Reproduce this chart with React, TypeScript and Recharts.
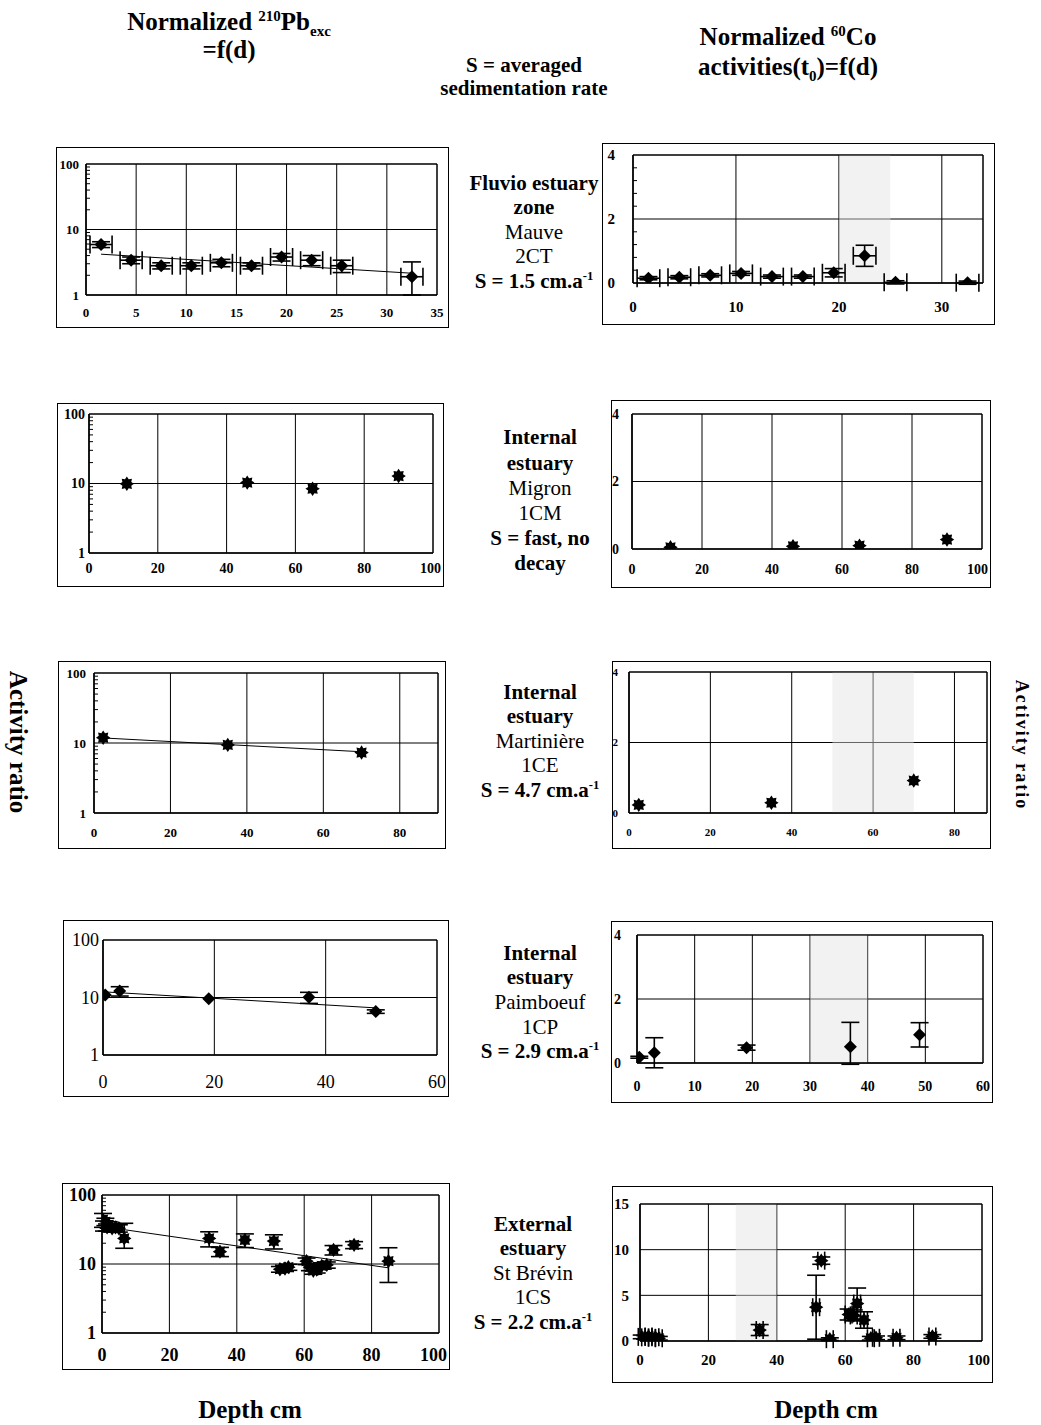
import React from "react";
import {
  CartesianGrid,
  ComposedChart,
  ErrorBar,
  Line,
  ReferenceArea,
  Scatter,
  XAxis,
  YAxis,
} from "recharts";

// Mauve 2CT (fluvio estuary)
const mauveDepth = [1.5, 4.5, 7.5, 10.5, 13.5, 16.5, 19.5, 22.5, 25.5, 32.5];
const mauveDepthErr = 1.1;
const mauvePb = [5.9, 3.4, 2.8, 2.8, 3.1, 2.8, 3.8, 3.4, 2.8, 1.9];
const mauvePbErr = [0.6, 0.4, 0.3, 0.3, 0.4, 0.3, 0.5, 0.6, 0.6, [0.9, 1.3]];
const mauvePbFitDepth = [1.5, 32.5];
const mauvePbFit = [4.2, 2.15];
const mauveCo = [0.15, 0.18, 0.24, 0.3, 0.2, 0.2, 0.32, 0.85, 0.02, 0.01];
const mauveCoErr = [0.05, 0.05, 0.05, 0.06, 0.05, 0.05, 0.13, 0.33, 0.05, 0.05];

// Migron 1CM
const migronDepth = [11, 46, 65, 90];
const migronPb = [9.9, 10.3, 8.4, 12.8];
const migronCo = [0.05, 0.08, 0.1, 0.28];

// Martinière 1CE
const martiniereDepth = [2.4, 35, 70];
const martinierePb = [11.9, 9.4, 7.3];
const martiniereFitDepth = [2.4, 70];
const martiniereFit = [11.8, 7.5];
const martiniereCo = [0.23, 0.29, 0.92];

// Paimboeuf 1CP
const paimboeufDepth = [0.4, 3, 19, 37, 49];
const paimboeufPb = [11.0, 13.0, 9.5, 10.1, 5.7];
const paimboeufPbErr = [0, 2.4, 0, 2.2, 0.4];
const paimboeufFitDepth = [0.4, 49];
const paimboeufFit = [12.5, 6.6];
const paimboeufCo = [0.18, 0.32, 0.48, 0.51, 0.88];
const paimboeufCoErr = [0.03, 0.47, 0.08, [0.55, 0.76], 0.38];

// St Brévin 1CS
const brevinDepth = [
  0.3, 0.6, 1.0, 1.5, 2.0, 3.0, 4.0, 5.0, 6.6, 31.8, 35.0, 42.4, 51.0, 52.8,
  54.3, 55.3, 60.7, 61.7, 62.7, 63.7, 65.2, 66.7, 68.7, 74.8, 85.0,
];
const brevinPb = [
  44, 36, 41, 34, 37, 33, 34, 33, 23.5, 23.5, 15.1, 22.3, 21.5, 8.4, 8.6, 9.0,
  11.0, 9.0, 8.0, 8.3, 9.4, 9.7, 16.0, 18.9, 11.0,
];
const brevinPbErr = [
  10, 6, 5, 4, 4, 4, 4, 4, [6.6, 15.4], 5.8, 2.3, 5, 5, 0.8, 0.8, 0.9, 1.2, 1,
  0.9, 0.9, 1, 1, 2.5, 2.2, [5.6, 6.2],
];
const brevinPbFitDepth = [0, 85];
const brevinPbFit = [35, 8.8];
const brevinCoDepth = [
  0.5, 1.5, 2.5, 3.5, 4.5, 5.5, 35, 51.5, 53, 55.5, 61, 62.5, 63.5, 65.5, 67.5,
  69, 75, 85.5,
];
const brevinCoDepthErr = 1;
const brevinCo = [
  0.45, 0.4, 0.5, 0.35, 0.4, 0.3, 1.2, 3.7, 8.8, 0.2, 2.9, 2.8, 4.1, 2.3, 0.3,
  0.35, 0.35, 0.5,
];
const brevinCoErr = [
  0.2, 0.2, 0.2, 0.2, 0.2, 0.2, 0.6, 3.5, 0.4, 0.15, 0.6, 0.6, 1.7, 0.9, 0.2,
  0.2, 0.2, 0.2,
];

// axis ticks
const logTicks = [1, 10, 100];
const logMinor = [2, 3, 4, 5, 6, 7, 8, 9, 20, 30, 40, 50, 60, 70, 80, 90];
const coTicks = [0, 2, 4];
const coMinor = [0.4, 0.8, 1.2, 1.6, 2.4, 2.8, 3.2, 3.6];
const brevinCoTicks = [0, 5, 10, 15];
const ticks35 = [0, 5, 10, 15, 20, 25, 30, 35];
const ticks30 = [0, 10, 20, 30];
const ticks100 = [0, 20, 40, 60, 80, 100];
const ticks80 = [0, 20, 40, 60, 80];
const ticks60by20 = [0, 20, 40, 60];
const ticks60by10 = [0, 10, 20, 30, 40, 50, 60];

type Err = number | number[];
type Row = { d: number; v: number; ex: Err; ey: Err };

const rows = (depth: number[], vals: number[], yErr?: Err[], xErr?: number): Row[] =>
  depth.map((d, i) => ({ d, v: vals[i], ey: yErr ? yErr[i] : 0, ex: xErr ?? 0 }));

const SERIF = '"Liberation Serif", "Times New Roman", serif';

const Diamond = (p: any) => {
  const { cx, cy } = p;
  const r = 6.5;
  return (
    <polygon
      points={`${cx},${cy - r} ${cx + r},${cy} ${cx},${cy + r} ${cx - r},${cy}`}
      fill="#000"
    />
  );
};

const Burst = (p: any) => {
  const { cx, cy } = p;
  const pts: string[] = [];
  for (let i = 0; i < 16; i++) {
    const a = (i * Math.PI) / 8;
    const r = i % 2 ? 4.8 : 7.2;
    pts.push(`${cx + r * Math.cos(a)},${cy + r * Math.sin(a)}`);
  }
  return <polygon points={pts.join(" ")} fill="#000" />;
};

const NoLabel = () => <g />;

type PanelProps = {
  box: number[];
  plot: number[];
  xMax: number;
  xTicks: number[];
  log?: boolean;
  yTicks: number[];
  minor?: number[];
  font: number;
  weight?: number;
  xGap: number;
  yGap: number;
  shade?: number[];
  points: Row[];
  shape: any;
  fit?: Row[];
  xErr?: boolean;
};

function Panel(props: PanelProps) {
  const { box, plot, xMax, xTicks, log, yTicks, minor, font, xGap, yGap } = props;
  const [x0, y0, x1, y1] = box;
  const [px0, py0, px1, py1] = plot;
  const w = x1 - x0 - 2;
  const h = y1 - y0 - 2;
  const rightGap = x1 - 1 - px1;
  const yMin = yTicks[0];
  const yMax = yTicks[yTicks.length - 1];
  const tickStyle = {
    fill: "#000",
    fontFamily: SERIF,
    fontSize: font,
    fontWeight: props.weight ?? 700,
  };

  // last x label is pushed left when it would run past the frame
  const XTick = (tp: any) => {
    const { x, y, payload } = tp;
    const label = String(payload.value);
    const half = (label.length * font * 0.5) / 2;
    const squeeze = payload.value === xMax && half > rightGap - 1;
    return (
      <text
        x={squeeze ? x + rightGap - 2 : x}
        y={y}
        dy="0.71em"
        textAnchor={squeeze ? "end" : "middle"}
        {...tickStyle}
      >
        {label}
      </text>
    );
  };

  return (
    <div
      style={{
        position: "absolute",
        left: x0,
        top: y0,
        width: x1 - x0,
        height: y1 - y0,
        border: "1px solid #000",
        boxSizing: "border-box",
      }}
    >
      <ComposedChart
        width={w}
        height={h}
        margin={{ top: py0 - y0 - 1, right: rightGap, bottom: 0, left: 0 }}
      >
        {props.shade && (
          <ReferenceArea
            x1={props.shade[0]}
            x2={props.shade[1]}
            y1={yMin}
            y2={yMax}
            fill="#e2e2e2"
            fillOpacity={0.45}
            stroke="none"
          />
        )}
        <CartesianGrid stroke="#000" strokeWidth={1} />
        <XAxis
          type="number"
          dataKey="d"
          domain={[0, xMax]}
          ticks={xTicks}
          interval={0}
          allowDataOverflow
          height={y1 - 1 - py1}
          tickSize={0}
          tickMargin={xGap}
          axisLine={{ stroke: "#000", strokeWidth: 1.2 }}
          tick={XTick}
        />
        <YAxis
          type="number"
          dataKey="v"
          scale={log ? "log" : "linear"}
          domain={[yMin, yMax]}
          ticks={yTicks}
          interval={0}
          allowDataOverflow
          width={px0 - x0 - 1}
          tickSize={0}
          tickMargin={yGap}
          axisLine={{ stroke: "#000", strokeWidth: 1.2 }}
          tick={tickStyle}
        />
        {minor && (
          <YAxis
            yAxisId="minor"
            type="number"
            mirror
            scale={log ? "log" : "linear"}
            domain={[yMin, yMax]}
            ticks={minor}
            interval={0}
            allowDataOverflow
            tickSize={4}
            axisLine={false}
            tickLine={{ stroke: "#000" }}
            tick={NoLabel}
          />
        )}
        <ReferenceArea
          x1={0}
          x2={xMax}
          y1={yMin}
          y2={yMax}
          fill="none"
          stroke="#000"
          strokeWidth={1}
        />
        {props.fit && (
          <Line
            data={props.fit}
            dataKey="v"
            type="linear"
            stroke="#000"
            strokeWidth={1}
            dot={false}
            isAnimationActive={false}
          />
        )}
        <Scatter
          data={props.points}
          dataKey="v"
          shape={props.shape}
          isAnimationActive={false}
        >
          {props.xErr && (
            <ErrorBar dataKey="ex" direction="x" width={9} stroke="#000" strokeWidth={1.6} />
          )}
          <ErrorBar dataKey="ey" direction="y" width={9} stroke="#000" strokeWidth={1.6} />
        </Scatter>
      </ComposedChart>
    </div>
  );
}

function TextBlock({ cx, top, lh, lines, size }: { cx: number; top: number; lh: number; lines: [React.ReactNode, boolean][]; size: number }) {
  return (
    <div
      style={{
        position: "absolute",
        left: cx - 150,
        top: top - lh / 2,
        width: 300,
        textAlign: "center",
        fontFamily: SERIF,
        fontSize: size,
        lineHeight: `${lh}px`,
        color: "#000",
      }}
    >
      {lines.map(([t, b], i) => (
        <div key={i} style={{ fontWeight: b ? 700 : 400 }}>
          {t}
        </div>
      ))}
    </div>
  );
}

const sup = (t: string) => <sup style={{ fontSize: "0.6em", lineHeight: 0 }}>{t}</sup>;
const sub = (t: string) => <sub style={{ fontSize: "0.6em", lineHeight: 0 }}>{t}</sub>;

const labelStyle: React.CSSProperties = {
  position: "absolute",
  textAlign: "center",
  fontWeight: 700,
  whiteSpace: "nowrap",
};

export default function App() {
  return (
    <div
      style={{
        position: "absolute",
        left: 0,
        top: 0,
        width: 1041,
        height: 1425,
        background: "#fff",
        fontFamily: SERIF,
      }}
    >
      <TextBlock cx={229} top={22} lh={28} size={25} lines={[[<>Normalized {sup("210")}Pb{sub("exc")}</>, true], ["=f(d)", true]]} />
      <TextBlock cx={524} top={65} lh={23} size={21} lines={[["S = averaged", true], ["sedimentation rate", true]]} />
      <TextBlock cx={788} top={37} lh={30} size={25} lines={[[<>Normalized {sup("60")}Co</>, true], [<>activities(t{sub("0")})=f(d)</>, true]]} />

      <TextBlock cx={534} top={183} lh={24.5} size={21} lines={[["Fluvio estuary", true], ["zone", true], ["Mauve", false], ["2CT", false], [<>S = 1.5 cm.a{sup("-1")}</>, true]]} />
      <TextBlock cx={540} top={438} lh={25.2} size={21} lines={[["Internal", true], ["estuary", true], ["Migron", false], ["1CM", false], ["S = fast, no", true], ["decay", true]]} />
      <TextBlock cx={540} top={692} lh={24.5} size={21} lines={[["Internal", true], ["estuary", true], ["Martinière", false], ["1CE", false], [<>S = 4.7 cm.a{sup("-1")}</>, true]]} />
      <TextBlock cx={540} top={953} lh={24.7} size={21} lines={[["Internal", true], ["estuary", true], ["Paimboeuf", false], ["1CP", false], [<>S = 2.9 cm.a{sup("-1")}</>, true]]} />
      <TextBlock cx={533} top={1224} lh={24.5} size={21} lines={[["External", true], ["estuary", true], ["St Brévin", false], ["1CS", false], [<>S = 2.2 cm.a{sup("-1")}</>, true]]} />

      <div style={{ ...labelStyle, left: 18 - 100, top: 742 - 15, width: 200, height: 30, fontSize: 25, lineHeight: "30px", transform: "rotate(90deg)" }}>
        Activity ratio
      </div>
      <div style={{ ...labelStyle, left: 1022 - 100, top: 745 - 10, width: 200, height: 20, fontSize: 18, letterSpacing: 2, lineHeight: "20px", transform: "rotate(90deg)" }}>
        Activity ratio
      </div>
      <div style={{ ...labelStyle, left: 250 - 100, top: 1410 - 15, width: 200, fontSize: 25, lineHeight: "30px" }}>
        Depth cm
      </div>
      <div style={{ ...labelStyle, left: 826 - 100, top: 1410 - 15, width: 200, fontSize: 25, lineHeight: "30px" }}>
        Depth cm
      </div>

      {/* 210Pb column */}
      <Panel box={[56, 147, 449, 328]} plot={[86, 164, 437, 295]} xMax={35} xTicks={ticks35} log yTicks={logTicks} minor={logMinor} font={13} xGap={13} yGap={7}
        points={rows(mauveDepth, mauvePb, mauvePbErr, mauveDepthErr)} shape={Diamond} xErr
        fit={rows(mauvePbFitDepth, mauvePbFit)} />
      <Panel box={[57, 403, 444, 587]} plot={[89, 414, 433, 553]} xMax={100} xTicks={ticks100} log yTicks={logTicks} minor={logMinor} font={14} xGap={10} yGap={4}
        points={rows(migronDepth, migronPb)} shape={Burst} />
      <Panel box={[58, 661, 446, 849]} plot={[94, 673, 438, 813]} xMax={90} xTicks={ticks80} log yTicks={logTicks} minor={logMinor} font={13} xGap={15} yGap={8}
        points={rows(martiniereDepth, martinierePb)} shape={Burst}
        fit={rows(martiniereFitDepth, martiniereFit)} />
      <Panel box={[63, 920, 449, 1097]} plot={[103, 940, 437, 1055]} xMax={60} xTicks={ticks60by20} log yTicks={logTicks} font={18} weight={400} xGap={20} yGap={4}
        points={rows(paimboeufDepth, paimboeufPb, paimboeufPbErr)} shape={Diamond}
        fit={rows(paimboeufFitDepth, paimboeufFit)} />
      <Panel box={[62, 1183, 450, 1370]} plot={[102, 1195, 439, 1333]} xMax={100} xTicks={ticks100} log yTicks={logTicks} minor={logMinor} font={18} xGap={15} yGap={6}
        points={rows(brevinDepth, brevinPb, brevinPbErr)} shape={Burst}
        fit={rows(brevinPbFitDepth, brevinPbFit)} />

      {/* 60Co column */}
      <Panel box={[602, 143, 995, 325]} plot={[633, 155, 983, 283]} xMax={34} xTicks={ticks30} yTicks={coTicks} minor={coMinor} font={15} xGap={18} yGap={18} shade={[20, 25]}
        points={rows(mauveDepth, mauveCo, mauveCoErr, mauveDepthErr)} shape={Diamond} xErr />
      <Panel box={[611, 400, 991, 588]} plot={[632, 414, 982, 549]} xMax={100} xTicks={ticks100} yTicks={coTicks} font={14} xGap={15} yGap={13}
        points={rows(migronDepth, migronCo)} shape={Burst} />
      <Panel box={[612, 661, 991, 849]} plot={[629, 672, 987, 813]} xMax={88} xTicks={ticks80} yTicks={coTicks} font={11} xGap={15} yGap={11} shade={[50, 70]}
        points={rows(martiniereDepth, martiniereCo)} shape={Burst} />
      <Panel box={[611, 921, 993, 1103]} plot={[637, 935, 983, 1063]} xMax={60} xTicks={ticks60by10} yTicks={coTicks} font={14} xGap={18} yGap={16} shade={[30, 40]}
        points={rows(paimboeufDepth, paimboeufCo, paimboeufCoErr)} shape={Diamond} />
      <Panel box={[612, 1186, 993, 1383]} plot={[640, 1204, 982, 1341]} xMax={100} xTicks={ticks100} yTicks={brevinCoTicks} font={15} xGap={13} yGap={11} shade={[28, 40]}
        points={rows(brevinCoDepth, brevinCo, brevinCoErr, brevinCoDepthErr)} shape={Burst} xErr />
    </div>
  );
}
